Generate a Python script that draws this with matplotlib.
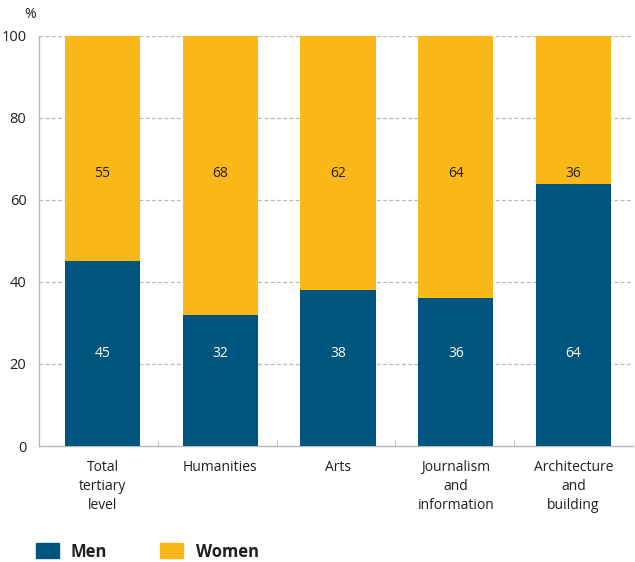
import matplotlib
matplotlib.use("Agg")
import matplotlib.pyplot as plt
from matplotlib.patches import Rectangle

plt.rcParams['font.family'] = ['Open Sans', 'DejaVu Sans']

categories = ["Total\ntertiary\nlevel", "Humanities", "Arts", "Journalism\nand\ninformation", "Architecture\nand\nbuilding"]
men = [45, 32, 38, 36, 64]
women = [55, 68, 62, 64, 36]
yticks = [0, 20, 40, 60, 80, 100]

c_men = "#00557F"
c_women = "#FBB819"
grey = "#B8B8B8"
txt = "#231F20"

fig = plt.figure(figsize=(6.35, 5.62), dpi=100)
ax = fig.add_axes([39 / 635, 0.2064, 594 / 635, 0.7296])

x = list(range(len(categories)))
ax.bar(x, men, width=0.637, color=c_men, zorder=3)
ax.bar(x, women, bottom=men, width=0.637, color=c_women, zorder=3)

for i in x:
    ax.text(i, 22.6, str(men[i]), ha='center', va='center', color='white', fontsize=10, zorder=4)
    ax.text(i, 66.5, str(women[i]), ha='center', va='center', color=txt, fontsize=10, zorder=4)

xl, xr = -0.539, 4.505
ax.set_xlim(xl, xr)
ax.set_ylim(0, 100)
ax.set_yticks(yticks)
ax.set_yticklabels([str(v) for v in yticks], fontsize=10.5, color=txt)
for v in yticks[1:]:
    ax.axhline(v, color=grey, lw=0.9, ls=(0, (3, 2)), zorder=1)

n = len(categories)
ax.set_xticks([xl + k * (xr - xl) / n for k in range(1, n)], minor=True)
ax.set_xticks(x)
ax.set_xticklabels(categories, fontsize=10, color=txt, linespacing=1.37)
ax.tick_params(axis='x', which='major', length=0, pad=10)
ax.tick_params(axis='x', which='minor', length=4, color=grey, direction='in')
ax.tick_params(axis='y', length=0, pad=9)

for s in ['top', 'right']:
    ax.spines[s].set_visible(False)
for s in ['left', 'bottom']:
    ax.spines[s].set_color(grey)
    ax.spines[s].set_linewidth(1.0)

fig.text(30 / 635, 1 - 15 / 562, "%", ha='center', va='center', fontsize=10, color=txt)

# legend
for (x0, label, col, tx) in [(36, "Men", c_men, 71), (160, "Women", c_women, 196)]:
    fig.patches.append(Rectangle((x0 / 635, 1 - 558 / 562), 23 / 635, 15 / 562,
                                 transform=fig.transFigure, color=col))
    fig.text(tx / 635, 1 - 552 / 562, label, ha='left', va='center', fontsize=12,
             fontweight='bold', color=txt)

fig.savefig("out.png", dpi=100)
